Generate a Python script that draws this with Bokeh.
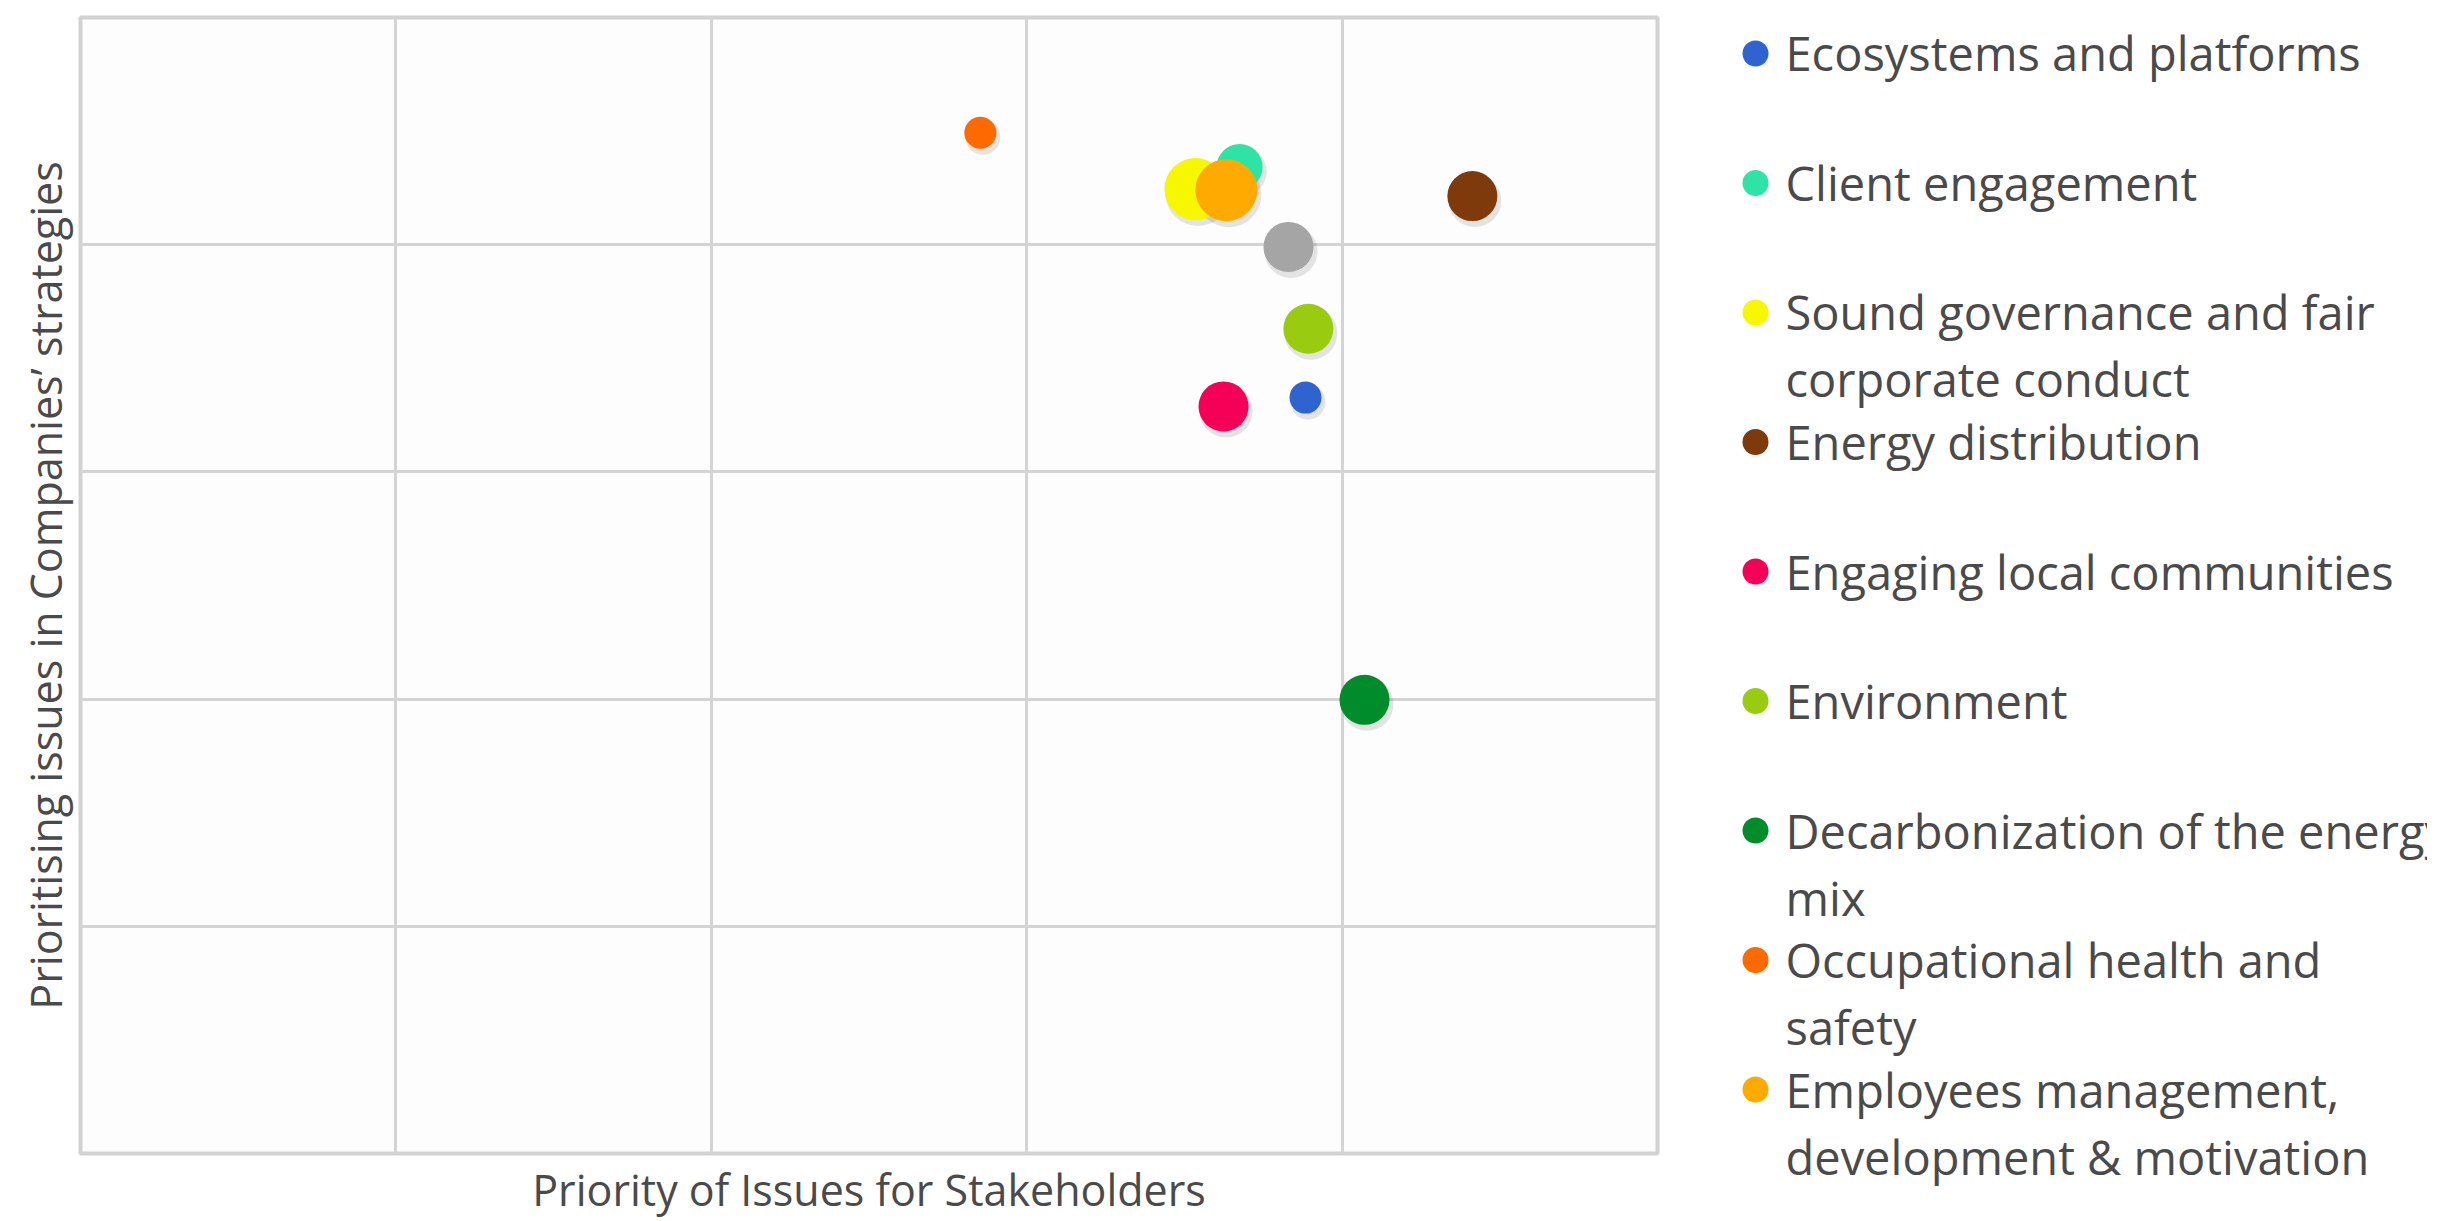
from bokeh.plotting import figure
from bokeh.models import Range1d, FixedTicker, ColumnDataSource
from bokeh.layouts import row
from bokeh.embed import file_html
from bokeh.resources import INLINE
from bokeh.core.properties import value
from bokeh.transform import dodge

# ---- data -------------------------------------------------------------
issues = [
    "Ecosystems and platforms",
    "Client engagement",
    "Sound governance and fair\ncorporate conduct",
    "Energy distribution",
    "Engaging local communities",
    "Environment",
    "Decarbonization of the energy\nmix",
    "Occupational health and\nsafety",
    "Employees management,\ndevelopment & motivation",
    "Other issue",
]
stakeholder_priority = [3.884, 3.675, 3.535, 4.413, 3.624, 3.893, 4.071, 2.853, 3.633, 3.830]
company_priority = [3.327, 4.342, 4.245, 4.214, 3.288, 3.630, 1.997, 4.493, 4.240, 3.990]
bubble_size = [32, 46, 62, 50, 50, 50, 50, 32, 62, 50]
colors = ["#2f63cf", "#2ee3a5", "#f7f700", "#7f3a0c", "#f50057",
          "#99cc11", "#008c2a", "#ff6a00", "#ffaa00", "#a5a5a5"]
n_legend = 9  # the last (grey) issue is not listed in the legend

x_title = "Priority of Issues for Stakeholders"
y_title = "Prioritising issues in Companies\u2019 strategies"

FONT = "Open Sans"
TXT = "#4a4a4a"

# ---- main bubble chart -------------------------------------------------
src = ColumnDataSource(dict(
    x=stakeholder_priority, y=company_priority, s=bubble_size,
    s2=[b + 3 for b in bubble_size], c=colors, name=issues,
))

p = figure(width=1700, height=1221, x_range=Range1d(0, 5), y_range=Range1d(0, 5),
           output_backend="svg", toolbar_location=None,
           min_border_left=80, min_border_right=43, min_border_top=17, min_border_bottom=65)
p.frame_align = False
p.background_fill_color = "#fdfdfd"
p.border_fill_color = "white"
p.outline_line_color = "#d2d2d2"
p.outline_line_width = 4

for ax in (p.xaxis, p.yaxis):
    ax.ticker = FixedTicker(ticks=[])
    ax.axis_line_color = None
    ax.major_tick_line_color = None
    ax.minor_tick_line_color = None
    ax.axis_label_text_font = FONT
    ax.axis_label_text_font_style = "normal"
    ax.axis_label_text_font_size = "43px"
    ax.axis_label_text_color = TXT
    ax.axis_label_standoff = 6
p.xaxis.axis_label = x_title
p.yaxis.axis_label = y_title

p.xgrid.ticker = FixedTicker(ticks=[1, 2, 3, 4])
p.ygrid.ticker = FixedTicker(ticks=[1, 2, 3, 4])
p.grid.grid_line_color = "#d4d4d4"
p.grid.grid_line_width = 3

# soft drop shadow, then bubbles
p.scatter(x=dodge("x", 0.008), y=dodge("y", -0.02), size="s2", source=src,
          fill_color="#000000", fill_alpha=0.10, line_color=None)
p.scatter(x="x", y="y", size="s", source=src, fill_color="c", line_color=None)

# ---- legend panel ------------------------------------------------------
first, second = [], []
for lab in issues[:n_legend]:
    parts = lab.split("\n")
    first.append(parts[0])
    second.append(parts[1] if len(parts) > 1 else "")
lsrc = ColumnDataSource(dict(i=list(range(n_legend)), c=colors[:n_legend], t1=first, t2=second))

leg = figure(width=727, height=1221, x_range=Range1d(0, 727), y_range=Range1d(9.019, -0.409),
             output_backend="svg", toolbar_location=None, title=None,
             x_axis_location=None, y_axis_location=None,
             min_border=0, min_border_left=0, min_border_right=0,
             min_border_top=0, min_border_bottom=0)
leg.frame_align = False
leg.grid.visible = False
leg.outline_line_color = None
leg.background_fill_color = "white"
leg.border_fill_color = "white"

leg.scatter(x=55, y="i", size=26, source=lsrc, fill_color="c", line_color=None)
leg.text(x=85, y="i", text="t1", source=lsrc, text_baseline="middle",
         text_font=value(FONT), text_font_size="47px", text_color=TXT)
leg.text(x=85, y="i", y_offset=67, text="t2", source=lsrc, text_baseline="middle",
         text_font=value(FONT), text_font_size="47px", text_color=TXT)

layout = row(p, leg)
open("out.html", "w").write(file_html(layout, INLINE))
